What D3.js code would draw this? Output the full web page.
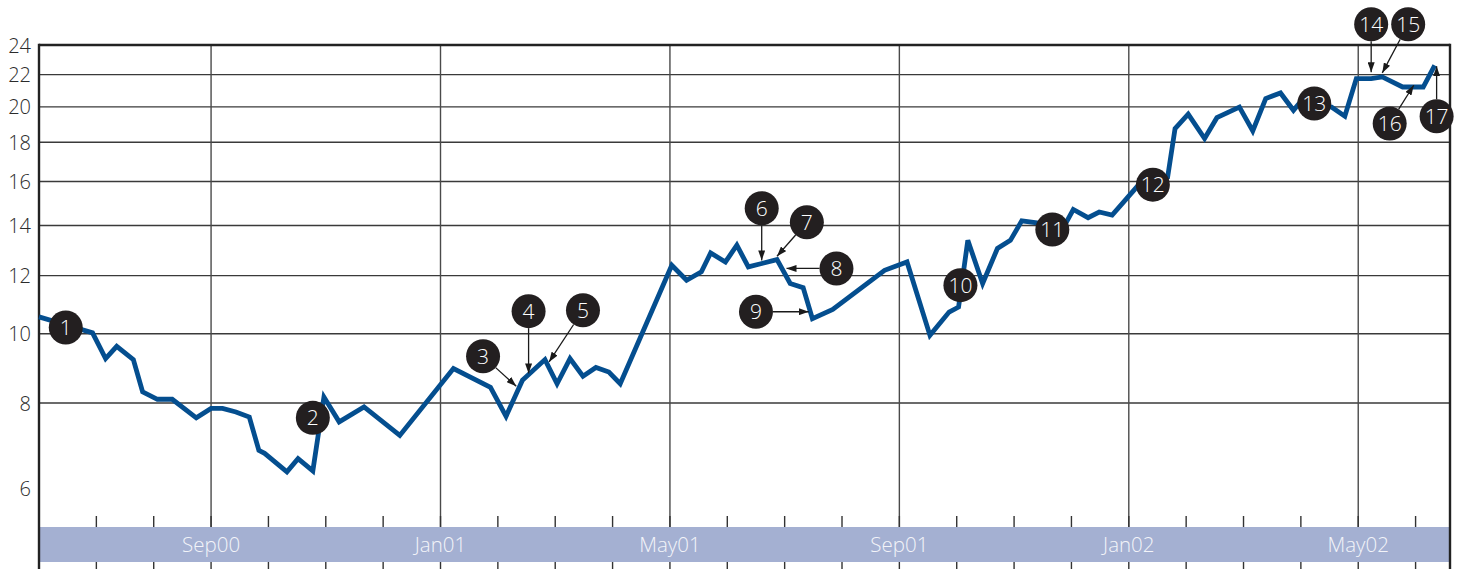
<!DOCTYPE html>
<html>
<head>
<meta charset="utf-8">
<script src="https://d3js.org/d3.v7.min.js"></script>
<style>
body { margin: 0; background: #fff; overflow: hidden; }
text { font-family: "Open Sans", sans-serif; font-weight: 300; }
</style>
</head>
<body>
<svg id="vis" width="1458" height="569"></svg>
<script>

// weekly-ish closing values (only the corners of the line)
var dates = ["2000-06-01","2000-06-15","2000-06-29","2000-07-06","2000-07-12","2000-07-21","2000-07-26",
  "2000-08-03","2000-08-11","2000-08-24","2000-09-01","2000-09-07","2000-09-14","2000-09-21","2000-09-26",
  "2000-09-29","2000-10-11","2000-10-17","2000-10-25","2000-10-31","2000-11-08","2000-11-21","2000-12-10",
  "2001-01-08","2001-01-28","2001-02-05","2001-02-13","2001-02-24","2001-03-02","2001-03-09","2001-03-16",
  "2001-03-23","2001-03-30","2001-04-05","2001-05-02","2001-05-10","2001-05-18","2001-05-23","2001-05-31",
  "2001-06-06","2001-06-12","2001-06-19","2001-06-27","2001-07-04","2001-07-11","2001-07-16","2001-07-27",
  "2001-08-24","2001-09-05","2001-09-17","2001-09-27","2001-10-02","2001-10-07","2001-10-15","2001-10-23",
  "2001-10-30","2001-11-05","2001-11-13","2001-11-20","2001-11-28","2001-12-02","2001-12-10","2001-12-16",
  "2001-12-23","2002-01-08","2002-01-15","2002-01-22","2002-01-26","2002-02-02","2002-02-10","2002-02-16",
  "2002-02-27","2002-03-06","2002-03-13","2002-03-21","2002-03-28","2002-04-01","2002-04-17","2002-04-24",
  "2002-04-30","2002-05-08","2002-05-14","2002-05-25","2002-06-05","2002-06-11"];

var prices = [10.55,10.29,10.03,9.24,9.61,9.21,8.30,
  8.10,8.10,7.62,7.86,7.86,7.77,7.64,6.84,
  6.77,6.36,6.65,6.38,8.16,7.52,7.90,7.19,
  8.95,8.42,7.66,8.62,9.21,8.52,9.24,8.73,
  8.98,8.85,8.52,12.39,11.83,12.14,12.87,12.52,
  13.18,12.33,12.46,12.61,11.71,11.56,10.49,10.80,
  12.20,12.52,9.95,10.71,10.88,13.38,11.71,13.05,
  13.38,14.20,14.11,13.97,14.09,14.70,14.34,14.59,
  14.45,16.01,16.13,16.22,18.75,19.57,18.20,19.37,
  19.99,18.62,20.50,20.84,19.80,20.33,19.99,19.45,
  21.74,21.74,21.85,21.21,21.21,22.61];

var startDate = "2000-06-01", endDate = "2002-06-19";

var yTicks = [6, 8, 10, 12, 14, 16, 18, 20, 22, 24];
var monthLabels = ["Sep00", "Jan01", "May01", "Sep01", "Jan02", "May02"];
var monthLabelDates = ["2000-09-01", "2001-01-01", "2001-05-01", "2001-09-01", "2002-01-01", "2002-05-01"];

// numbered events: where the marker sits and (optionally) the point its arrow hits
var noteLabels = ["1","2","3","4","5","6","7","8","9","10","11","12","13","14","15","16","17"];
var noteDates = ["2000-06-15","2000-10-25","2001-01-24","2001-02-16","2001-03-16","2001-06-19","2001-07-13",
  "2001-07-29","2001-06-16","2001-10-03","2001-11-21","2002-01-14","2002-04-08","2002-05-08","2002-05-28",
  "2002-05-18","2002-06-12"];
var noteValues = [10.20,7.62,9.31,10.74,10.77,14.76,14.14,12.27,10.72,11.65,13.83,15.85,20.20,25.5,25.5,19.03,19.45];
var arrowDates = [null,null,"2001-02-10","2001-02-16","2001-02-26","2001-06-19","2001-06-27","2001-07-02",
  "2001-07-14",null,null,null,null,"2002-05-08","2002-05-14","2002-05-31","2002-06-12"];
var arrowValues = [null,null,8.45,8.81,9.14,12.58,12.74,12.27,10.72,null,null,null,null,22.15,22.11,21.32,22.55];


var parse = d3.timeParse("%Y-%m-%d");

// months since Jun 2000, every month gets the same width like in the original
function monthIndex(s) {
  var d = parse(s);
  var len = new Date(d.getFullYear(), d.getMonth() + 1, 0).getDate();
  return (d.getFullYear() - 2000) * 12 + d.getMonth() - 5 + (d.getDate() - 1) / len;
}

var svg = d3.select("#vis"),
  width = +svg.attr("width"),
  height = +svg.attr("height");

var plot = {left: 39, right: 1450, top: 45, bottom: 527, band: 35};

var x = d3.scaleLinear()
  .domain([monthIndex(startDate), monthIndex(endDate)])
  .range([plot.left, plot.right]);

var y = d3.scaleSymlog()
  .constant(1.5)
  .domain([5.25, 24])
  .range([plot.bottom, plot.top]);

var data = dates.map(function(d, i) { return {date: d, value: prices[i]}; });

var months = d3.range(1, Math.floor(monthIndex(endDate)) + 1);
function isMajor(m) { return (m - 3) % 4 === 0; }

// horizontal grid
svg.append("g").selectAll("line")
  .data(yTicks.filter(function(d) { return d > 6 && d < 24; }))
  .enter().append("line")
    .attr("x1", plot.left).attr("x2", plot.right)
    .attr("y1", function(d) { return y(d); })
    .attr("y2", function(d) { return y(d); })
    .attr("stroke", "#3a3a3a")
    .attr("stroke-width", 1.4);

// vertical grid every 4 months
svg.append("g").selectAll("line")
  .data(months.filter(isMajor))
  .enter().append("line")
    .attr("x1", function(d) { return x(d); })
    .attr("x2", function(d) { return x(d); })
    .attr("y1", plot.top)
    .attr("y2", plot.bottom)
    .attr("stroke", "#4a4a4a")
    .attr("stroke-width", 1.4);

// month ticks above and below the band
var ticks = svg.append("g");
ticks.selectAll("line.up")
  .data(months)
  .enter().append("line")
    .attr("class", "up")
    .attr("x1", function(d) { return x(d); })
    .attr("x2", function(d) { return x(d); })
    .attr("y1", plot.bottom - 11)
    .attr("y2", plot.bottom)
    .attr("stroke", "#333")
    .attr("stroke-width", 1.4);
ticks.selectAll("line.down")
  .data(months)
  .enter().append("line")
    .attr("class", "down")
    .attr("x1", function(d) { return x(d); })
    .attr("x2", function(d) { return x(d); })
    .attr("y1", plot.bottom + plot.band)
    .attr("y2", height)
    .attr("stroke", "#333")
    .attr("stroke-width", 1.4);

// date band
svg.append("rect")
  .attr("x", plot.left)
  .attr("y", plot.bottom)
  .attr("width", plot.right - plot.left)
  .attr("height", plot.band)
  .attr("fill", "#a4b0d2");

svg.append("g").selectAll("text")
  .data(monthLabels)
  .enter().append("text")
    .attr("x", function(d, i) { return x(monthIndex(monthLabelDates[i])); })
    .attr("y", plot.bottom + 25)
    .attr("text-anchor", "middle")
    .attr("font-size", "20.5px")
    .attr("fill", "#f3f4f9")
    .text(function(d) { return d; });

// y labels
svg.append("g").selectAll("text")
  .data(yTicks)
  .enter().append("text")
    .attr("x", plot.left - 8)
    .attr("y", function(d) { return y(d); })
    .attr("dy", "0.38em")
    .attr("text-anchor", "end")
    .attr("font-size", "20px")
    .attr("fill", "#2b2b2b")
    .text(function(d) { return d; });

// frame: top, left and right
svg.append("line")
  .attr("x1", plot.left).attr("x2", plot.right)
  .attr("y1", plot.top).attr("y2", plot.top)
  .attr("stroke", "#222").attr("stroke-width", 2.4);
svg.selectAll("line.side")
  .data([plot.left, plot.right])
  .enter().append("line")
    .attr("class", "side")
    .attr("x1", function(d) { return d; })
    .attr("x2", function(d) { return d; })
    .attr("y1", plot.top - 1.2)
    .attr("y2", height)
    .attr("stroke", "#222")
    .attr("stroke-width", 2.4);

// price line
var line = d3.line()
  .x(function(d) { return x(monthIndex(d.date)); })
  .y(function(d) { return y(d.value); });

svg.append("path")
  .datum(data)
  .attr("d", line)
  .attr("fill", "none")
  .attr("stroke", "#044e8f")
  .attr("stroke-width", 4.8);

// arrow head
svg.append("defs").append("marker")
  .attr("id", "arrow")
  .attr("viewBox", "0 0 10 7")
  .attr("refX", 10).attr("refY", 3.5)
  .attr("markerWidth", 10).attr("markerHeight", 7)
  .attr("markerUnits", "userSpaceOnUse")
  .attr("orient", "auto")
  .append("path")
    .attr("d", "M0,0L10,3.5L0,7Z")
    .attr("fill", "#1a1a1a");

var r = 17;
var notes = noteLabels.map(function(d, i) {
  return {
    label: d,
    cx: x(monthIndex(noteDates[i])),
    cy: y(noteValues[i]),
    tx: arrowDates[i] ? x(monthIndex(arrowDates[i])) : null,
    ty: arrowDates[i] ? y(arrowValues[i]) : null
  };
});

svg.append("g").selectAll("line")
  .data(notes.filter(function(d) { return d.tx !== null; }))
  .enter().append("line")
    .attr("x1", function(d) { var l = Math.hypot(d.tx - d.cx, d.ty - d.cy); return d.cx + (d.tx - d.cx) / l * r; })
    .attr("y1", function(d) { var l = Math.hypot(d.tx - d.cx, d.ty - d.cy); return d.cy + (d.ty - d.cy) / l * r; })
    .attr("x2", function(d) { return d.tx; })
    .attr("y2", function(d) { return d.ty; })
    .attr("stroke", "#1a1a1a")
    .attr("stroke-width", 1.3)
    .attr("marker-end", "url(#arrow)");

var marks = svg.append("g").selectAll("g")
  .data(notes)
  .enter().append("g")
    .attr("transform", function(d) { return "translate(" + d.cx + "," + d.cy + ")"; });

marks.append("circle")
  .attr("r", r)
  .attr("fill", "#231f20");

marks.append("text")
  .attr("text-anchor", "middle")
  .attr("dy", "0.36em")
  .attr("font-size", "21px")
  .attr("fill", "#fff")
  .text(function(d) { return d.label; });

</script>
</body>
</html>
